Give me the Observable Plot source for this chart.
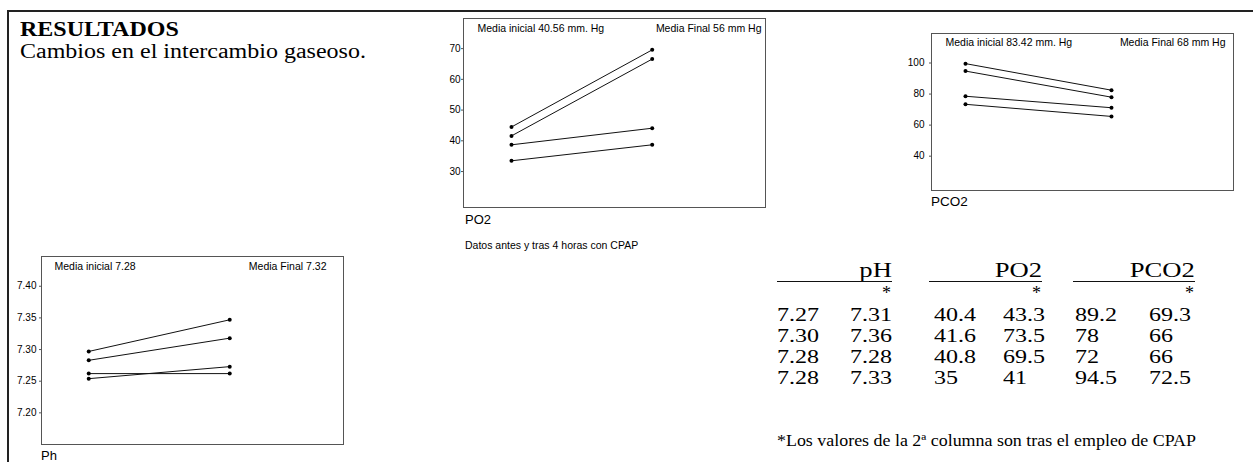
<!DOCTYPE html>
<html><head><meta charset="utf-8">
<script src="https://cdn.jsdelivr.net/npm/d3@7"></script>
<script src="https://cdn.jsdelivr.net/npm/@observablehq/plot@0.6"></script>
<style>
html,body{margin:0;padding:0;background:#fff;}
#page{position:relative;width:1253px;height:462px;overflow:hidden;background:#fff;}
.t{position:absolute;white-space:nowrap;line-height:0.85;color:#000;}
.serif{font-family:"Liberation Serif","Times New Roman",serif;}
.sans{font-family:"Liberation Sans",Arial,sans-serif;}
.chart{position:absolute;}
.rule{position:absolute;border-top:1px solid #111;height:0;}
</style></head><body><div id="page"></div>
<script>
// ---------- data ----------
const phases = [0, 1]; // 0 = antes (inicial), 1 = tras 4 h CPAP (final)
const po2Before  = [44.5, 41.6, 38.7, 33.5];
const po2After   = [69.6, 66.6, 44.1, 38.7];
const pco2Before = [99.6, 94.8, 78.6, 73.4];
const pco2After  = [82.5, 78.0, 71.2, 65.6];
const phBefore   = [7.297, 7.283, 7.262, 7.254];
const phAfter    = [7.347, 7.318, 7.262, 7.273];
const po2Ticks  = [30, 40, 50, 60, 70];
const pco2Ticks = [40, 60, 80, 100];
const phTicks   = [7.20, 7.25, 7.30, 7.35, 7.40];
const po2Labels  = ["Media inicial 40.56 mm. Hg", "Media Final 56 mm Hg"];
const pco2Labels = ["Media inicial 83.42 mm. Hg", "Media Final 68 mm Hg"];
const phLabels   = ["Media inicial 7.28", "Media Final 7.32"];
const tableHeaders = ["pH", "PO2", "PCO2"];
const tableRows = [
  ["7.27", "7.31", "40.4", "43.3", "89.2", "69.3"],
  ["7.30", "7.36", "41.6", "73.5", "78",   "66"],
  ["7.28", "7.28", "40.8", "69.5", "72",   "66"],
  ["7.28", "7.33", "35",   "41",   "94.5", "72.5"]
];
const titleText = "RESULTADOS";
const subtitleText = "Cambios en el intercambio gaseoso.";
const noteText = "Datos antes y tras 4 horas con CPAP";
const footText = "*Los valores de la 2\u00aa columna son tras el empleo de CPAP";

// ---------- helpers ----------
const page = document.getElementById("page");
const LH = 0.85;
const ASC = {sans: LH / 2 + 0.3465, serif: LH / 2 + 0.3375};
function label(text, x, baseline, size, fam, opts = {}) {
  const d = document.createElement("div");
  d.className = "t " + fam;
  d.textContent = text;
  d.style.fontSize = size + "px";
  d.style.top = (baseline - ASC[fam] * size) + "px";
  if (opts.bold) d.style.fontWeight = "bold";
  const sx = opts.sx || 1;
  if (opts.anchor === "end") {
    d.style.right = (1253 - x) + "px";
    d.style.transformOrigin = "right";
  } else {
    d.style.left = x + "px";
    d.style.transformOrigin = "left";
  }
  if (sx !== 1) d.style.transform = `scaleX(${sx})`;
  page.appendChild(d);
  return d;
}
function rule(x1, x2, y, w = 1) {
  const d = document.createElement("div");
  d.className = "rule";
  d.style.left = x1 + "px"; d.style.width = (x2 - x1) + "px"; d.style.top = y + "px";
  d.style.borderTopWidth = w + "px";
  page.appendChild(d);
}

function pairChart(cfg) {
  const data = cfg.before.flatMap((b, i) => [
    {p: i, t: phases[0], v: b},
    {p: i, t: phases[1], v: cfg.after[i]}
  ]);
  const chart = Plot.plot({
    width: cfg.width, height: cfg.height,
    marginLeft: cfg.ml, marginRight: cfg.mr, marginTop: cfg.mt, marginBottom: cfg.mb,
    style: {fontFamily: "'Liberation Sans', Arial, sans-serif", fontSize: "10px", background: "none", color: "#000", overflow: "visible"},
    x: {domain: cfg.xDomain, axis: null},
    y: {domain: cfg.yDomain, label: null},
    marks: [
      Plot.frame({stroke: "#555", strokeWidth: 1}),
      Plot.axisY({ticks: cfg.ticks, tickFormat: cfg.fmt, tickSize: 2, tickPadding: cfg.tp, label: null, fontSize: 10, stroke: "#555"}),
      Plot.line(data, {x: "t", y: "v", z: "p", stroke: "#111", strokeWidth: 1}),
      Plot.dot(data, {x: "t", y: "v", r: 2, fill: "#000", stroke: "none"}),
      Plot.text([cfg.labels[0]], {text: d => d, frameAnchor: "top-left", dx: cfg.ldx, dy: cfg.ldy, fontSize: 10.5, fill: "#000"}),
      Plot.text([cfg.labels[1]], {text: d => d, frameAnchor: "top-right", dx: cfg.rdx, dy: cfg.ldy, fontSize: 10.5, fill: "#000"})
    ]
  });
  chart.classList.add("chart");
  chart.style.left = cfg.left + "px";
  chart.style.top = cfg.top + "px";
  page.appendChild(chart);
}

// ---------- outer frame ----------
const fr = document.createElement("div");
Object.assign(fr.style, {position: "absolute", left: "7px", top: "10px", width: "1260px", height: "470px",
  borderTop: "2px solid #222", borderLeft: "2px solid #222"});
page.appendChild(fr);

// ---------- titles ----------
label(titleText, 20, 35.8, 20, "serif", {bold: true, sx: 1.2});
label(subtitleText, 20, 58, 20, "serif", {sx: 1.2});

// ---------- charts ----------
pairChart({before: po2Before, after: po2After, ticks: po2Ticks, fmt: d3.format("d"),
  yDomain: [18.3, 79.8], xDomain: [-0.341, 1.805], labels: po2Labels,
  left: 410, top: 0, width: 360, height: 212, ml: 53, mr: 5, mt: 18, mb: 5, tp: 1,
  ldx: 14, rdx: -4, ldy: 6});
pairChart({before: pco2Before, after: pco2After, ticks: pco2Ticks, fmt: d3.format("d"),
  yDomain: [17.9, 119], xDomain: [-0.233, 1.836], labels: pco2Labels,
  left: 880, top: 0, width: 373, height: 195, ml: 51, mr: 20, mt: 33, mb: 5, tp: 5,
  ldx: 14, rdx: -8, ldy: 5.2});
pairChart({before: phBefore, after: phAfter, ticks: phTicks, fmt: d3.format(".2f"),
  yDomain: [7.150, 7.447], xDomain: [-0.335, 1.807], labels: phLabels,
  left: 0, top: 240, width: 360, height: 209, ml: 41, mr: 17, mt: 16, mb: 5, tp: 3,
  ldx: 13, rdx: -17, ldy: 6});

// ---------- chart captions ----------
label("PO2", 465, 224.5, 13, "sans");
label(noteText, 465, 249, 10.5, "sans");
label("PCO2", 931, 206.5, 13.5, "sans");
label("Ph", 41, 460, 13, "sans");

// ---------- table ----------
const colX = [777, 850, 934, 1003, 1075, 1149];
const groupRight = [892, 1042, 1195];
const groupLeft = [777, 929, 1073];
tableHeaders.forEach((h, g) => {
  label(h, groupRight[g], 278, 22, "serif", {anchor: "end", sx: 1.21});
  rule(groupLeft[g], groupRight[g], 281, 1);
  label("*", groupRight[g] - 1, 300, 18, "serif", {anchor: "end"});
});
const rowBase = [321.5, 342.5, 363.5, 384.5];
tableRows.forEach((row, r) => {
  row.forEach((v, c) => label(v, colX[c], rowBase[r], 18.8, "serif", {sx: 1.28}));
});
label(footText, 777, 446.5, 16, "serif", {sx: 1.12});
</script></body></html>
